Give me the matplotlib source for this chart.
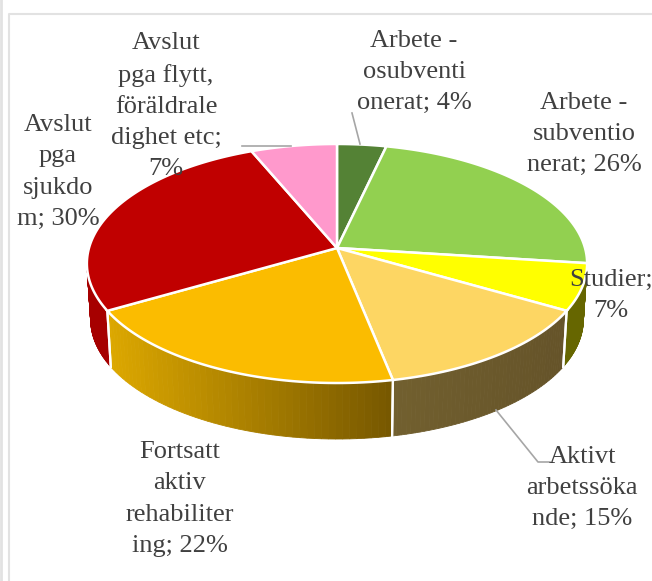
import matplotlib
matplotlib.use('Agg')
import matplotlib.pyplot as plt
import numpy as np

categories = ['Arbete -\nosubventi\nonerat', 'Arbete -\nsubventio\nnerat', 'Studier',
              'Aktivt\narbetssöka\nnde', 'Fortsatt\naktiv\nrehabiliter\ning',
              'Avslut\npga\nsjukdo\nm', 'Avslut\npga flytt,\nföräldrale\ndighet etc']
values = [4, 26, 7, 15, 22, 30, 7]
colors = ['#548235', '#92D050', '#FFFF00', '#FDD663', '#FBBC00', '#C00000', '#FF99CC']
# wall colour from left to right, None for slices at the back
walls = [None, None, ('#666600', '#666600'), ('#72602F', '#655329'),
         ('#DDA800', '#765700'), ('#A60000', '#A60000'), None]
label_pos = [(414, 72), (584, 134), (611, 295), (582, 488), (180, 499), (58, 172), (166, 106)]
# the percentage wraps to its own line on some labels
label_sep = ['; ', '; ', ';\n', '; ', '; ', '; ', ';\n']

cx, cy = 337, 248
depth = 56
k = 0.1297


def project(ang, lower=False):
    # circle seen in perspective, angle clockwise from the top
    xx = np.sin(ang)
    yy = np.cos(ang)
    d = 1 + k * yy
    px = 248 * xx / d
    py = 117.5 * yy / d
    if lower:
        return cx + px * 0.985, cy - py + depth
    return cx + px, cy - py


fig = plt.figure(figsize=(6.52, 5.81), dpi=100)
ax = fig.add_axes([0, 0, 1, 1])
ax.set_xlim(0, 652)
ax.set_ylim(581, 0)
ax.axis('off')

# chart frame
ax.plot([1, 1], [0, 581], color='#E2E2E2', lw=2)
ax.plot([9, 9, 652], [581, 14, 14], color='#E2E2E2', lw=1.5)

edges = np.cumsum([0] + values) / sum(values) * 2 * np.pi
# visible part of the side: between the two widest points of the rim
front_a = np.pi - np.arccos(k)
front_b = np.pi + np.arccos(k)

for i in range(len(values)):
    if walls[i] is None:
        continue
    a0 = max(edges[i], front_a)
    a1 = min(edges[i + 1], front_b)
    steps = np.linspace(a0, a1, 50)
    c0 = np.array(matplotlib.colors.to_rgb(walls[i][0]))
    c1 = np.array(matplotlib.colors.to_rgb(walls[i][1]))
    tx, ty = project(steps)
    bx, by = project(steps, True)
    xmin, xmax = tx.min(), tx.max()
    for j in range(len(steps) - 1):
        t = (0.5 * (tx[j] + tx[j + 1]) - xmin) / (xmax - xmin)
        ax.fill([tx[j], tx[j + 1], bx[j + 1], bx[j]], [ty[j], ty[j + 1], by[j + 1], by[j]],
                color=c0 + (c1 - c0) * t, lw=0.6, zorder=2)
    # white line where slices meet
    for a in (a0, a1):
        if a in (front_a, front_b):
            continue
        ptx, pty = project(a)
        pbx, pby = project(a, True)
        ax.plot([ptx, pbx], [pty, pby], color='white', lw=1.6, zorder=3)

for i in range(len(values)):
    steps = np.linspace(edges[i], edges[i + 1], 120)
    rx, ry = project(steps)
    ax.fill(np.r_[cx, rx], np.r_[cy, ry], facecolor=colors[i], edgecolor='white',
            lw=1.8, joinstyle='miter', zorder=4)

# leader lines
leader = '#A6A6A6'
ax.plot([496, 538, 550], [410, 462, 462], color=leader, lw=1.2, zorder=5)
ax.plot([242, 291], [146, 146], color=leader, lw=1.2, zorder=5)
ax.plot([352, 360], [113, 144], color=leader, lw=1.2, zorder=5)

for name, val, sep, pos in zip(categories, values, label_sep, label_pos):
    ax.text(pos[0], pos[1], name + sep + str(val) + '%', ha='center', va='center',
            multialignment='center', color='#404040', family='Liberation Serif',
            fontsize=19, linespacing=1.53, zorder=6)

fig.savefig('out.png', dpi=100)
plt.close()
